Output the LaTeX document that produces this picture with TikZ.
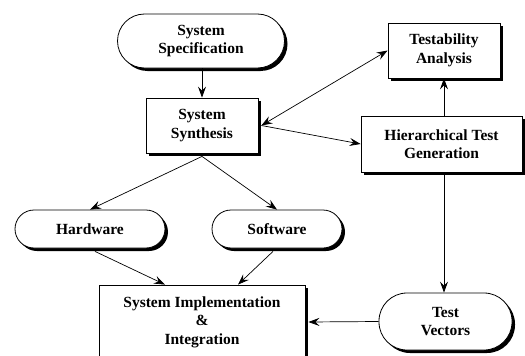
\documentclass[tikz,border=0pt]{standalone}
\usepackage{fontspec}
\setmainfont{Liberation Serif}
\usetikzlibrary{arrows.meta,shadows,calc}
\tikzset{
  base/.style={draw=black, line width=0.8pt, fill=white, align=center, inner sep=0pt,
    font=\fontsize{15.5}{18.5}\selectfont\bfseries,
    drop shadow={shadow xshift=3pt, shadow yshift=-3pt, fill=black, opacity=1}},
  boxnode/.style={base, rectangle},
  pill/.style={base, rectangle, rounded corners=#1},
  tip/.tip={Stealth[length=11pt, width=8pt, inset=4pt]},
  conn/.style={line width=0.7pt, -tip},
  dconn/.style={line width=0.7pt, tip-tip}
}
\begin{document}
\begin{tikzpicture}[x=1pt, y=-1pt]
\useasboundingbox (0,0) rectangle (525,356);
\clip (0,0) rectangle (525,356);
\node[pill=27pt, minimum width=167pt, minimum height=54pt] (spec) at (201,41) {System\\Specification};
\node[boxnode, minimum width=112pt, minimum height=55pt] (synth) at (202,125.5) {System\\Synthesis};
\node[boxnode, minimum width=112pt, minimum height=55pt] (testa) at (444,50.5) {Testability\\Analysis};
\node[boxnode, minimum width=161pt, minimum height=56pt] (hier) at (441.5,144) {Hierarchical Test\\Generation};
\node[pill=19pt, minimum width=150pt, minimum height=38pt] (hw) at (90,229) {Hardware};
\node[pill=19pt, minimum width=130pt, minimum height=38pt] (sw) at (277,229) {Software};
\node[boxnode, minimum width=206pt, minimum height=74pt] (impl) at (202,322) {System Implementation\\\&\\Integration};
\node[pill=28pt, minimum width=133pt, minimum height=57pt] (tv) at (445.5,321.5) {Test\\Vectors};

\coordinate (synE) at ($(synth.east)+(3pt,0)$);
\draw[conn] (spec.south -| synth.north) -- (synth.north);
\draw[dconn] (synE) -- (testa.west);
\draw[conn] (synE) -- (hier.west);
\draw[conn] (testa.south |- hier.north) -- (testa.south);
\draw[conn] ($(synth.south)+(0,-3pt)$) -- (hw.north);
\draw[conn] ($(synth.south)+(0,-3pt)$) -- (sw.north);
\coordinate (hwS) at ($(hw.south)+(5pt,-3pt)$);
\coordinate (swS) at ($(sw.south)+(-4pt,-3pt)$);
\coordinate (implA) at ($(impl.north)+(-37pt,0)$);
\coordinate (implB) at ($(impl.north)+(36pt,0)$);
\draw[conn] (hwS) -- (implA);
\draw[conn] (swS) -- (implB);
\draw[conn] ($(testa.south |- hier.south)+(0,-3pt)$) -- (testa.south |- tv.north);
\draw[conn] (tv.west) -- ($(impl.east)+(3pt,0)$);
\end{tikzpicture}
\end{document}
